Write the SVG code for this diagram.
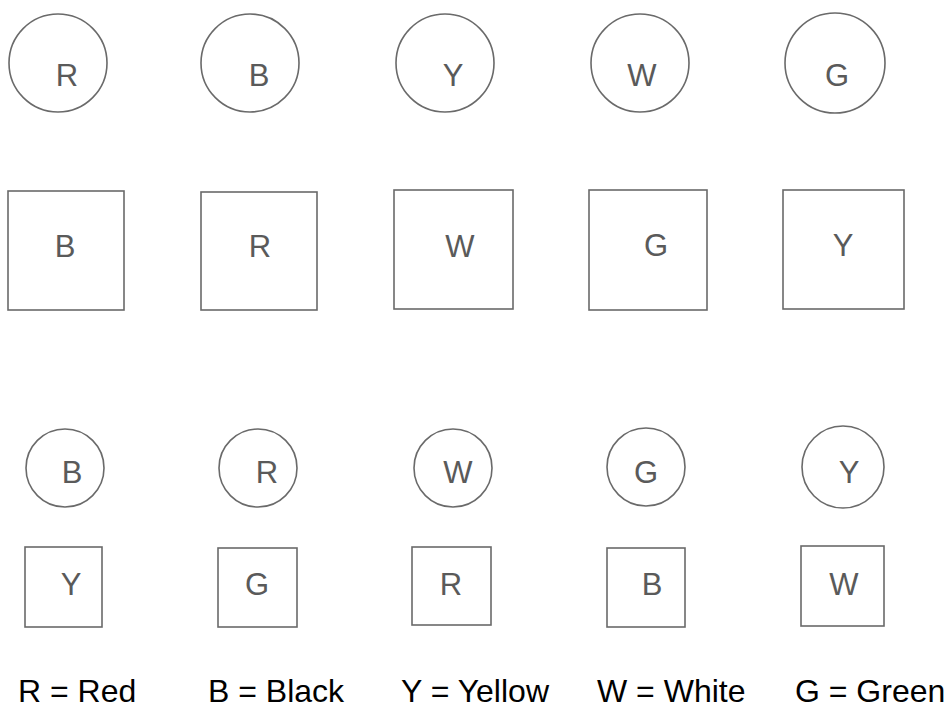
<svg xmlns="http://www.w3.org/2000/svg" width="952" height="710" viewBox="0 0 952 710">
<style>
.s{fill:#fff;stroke:#6a6a6a;stroke-width:1.6}
.t{font-family:"Liberation Sans",Arial,sans-serif;font-size:31px;fill:#5a5a5a;text-anchor:middle}
.l{font-family:"Liberation Sans",Arial,sans-serif;font-size:32px;fill:#000}
</style>
<rect width="952" height="710" fill="#fff"/>
<g id="connectors"/>
<g id="c1"><circle class="s" cx="58" cy="63" r="49"/><text class="t" x="67" y="86">R</text></g>
<g id="c2"><circle class="s" cx="250" cy="63" r="49"/><text class="t" x="259" y="86">B</text></g>
<g id="c3"><circle class="s" cx="445" cy="63" r="49"/><text class="t" x="453" y="86">Y</text></g>
<g id="c4"><circle class="s" cx="640" cy="63" r="49"/><text class="t" x="642" y="86">W</text></g>
<g id="c5"><circle class="s" cx="835" cy="63" r="50"/><text class="t" x="837" y="86">G</text></g>

<g id="s1"><rect class="s" x="8" y="191" width="116" height="119"/><text class="t" x="65" y="257">B</text></g>
<g id="s2"><rect class="s" x="201" y="192" width="116" height="118"/><text class="t" x="260" y="257">R</text></g>
<g id="s3"><rect class="s" x="394" y="190" width="119" height="119"/><text class="t" x="460" y="257">W</text></g>
<g id="s4"><rect class="s" x="589" y="190" width="118" height="120"/><text class="t" x="656" y="256">G</text></g>
<g id="s5"><rect class="s" x="783" y="190" width="121" height="119"/><text class="t" x="843" y="256">Y</text></g>

<g id="c6"><circle class="s" cx="65" cy="468" r="39"/><text class="t" x="72" y="483">B</text></g>
<g id="c7"><circle class="s" cx="258" cy="468" r="39"/><text class="t" x="267" y="483">R</text></g>
<g id="c8"><circle class="s" cx="453" cy="468" r="39"/><text class="t" x="458" y="483">W</text></g>
<g id="c9"><circle class="s" cx="646" cy="467" r="39"/><text class="t" x="646" y="483">G</text></g>
<g id="c10"><circle class="s" cx="843" cy="467" r="41"/><text class="t" x="849" y="483">Y</text></g>

<g id="s6"><rect class="s" x="25" y="547" width="77" height="80"/><text class="t" x="71" y="595">Y</text></g>
<g id="s7"><rect class="s" x="218" y="548" width="79" height="79"/><text class="t" x="257" y="595">G</text></g>
<g id="s8"><rect class="s" x="412" y="547" width="79" height="78"/><text class="t" x="451" y="595">R</text></g>
<g id="s9"><rect class="s" x="607" y="548" width="78" height="79"/><text class="t" x="652" y="595">B</text></g>
<g id="s10"><rect class="s" x="801" y="546" width="83" height="80"/><text class="t" x="844" y="595">W</text></g>

<g id="legend">
<text class="l" x="18" y="702">R = Red</text>
<text class="l" x="208" y="702">B = Black</text>
<text class="l" x="401" y="702">Y = Yellow</text>
<text class="l" x="597" y="702">W = White</text>
<text class="l" x="795" y="702">G = Green</text>
</g>
</svg>
